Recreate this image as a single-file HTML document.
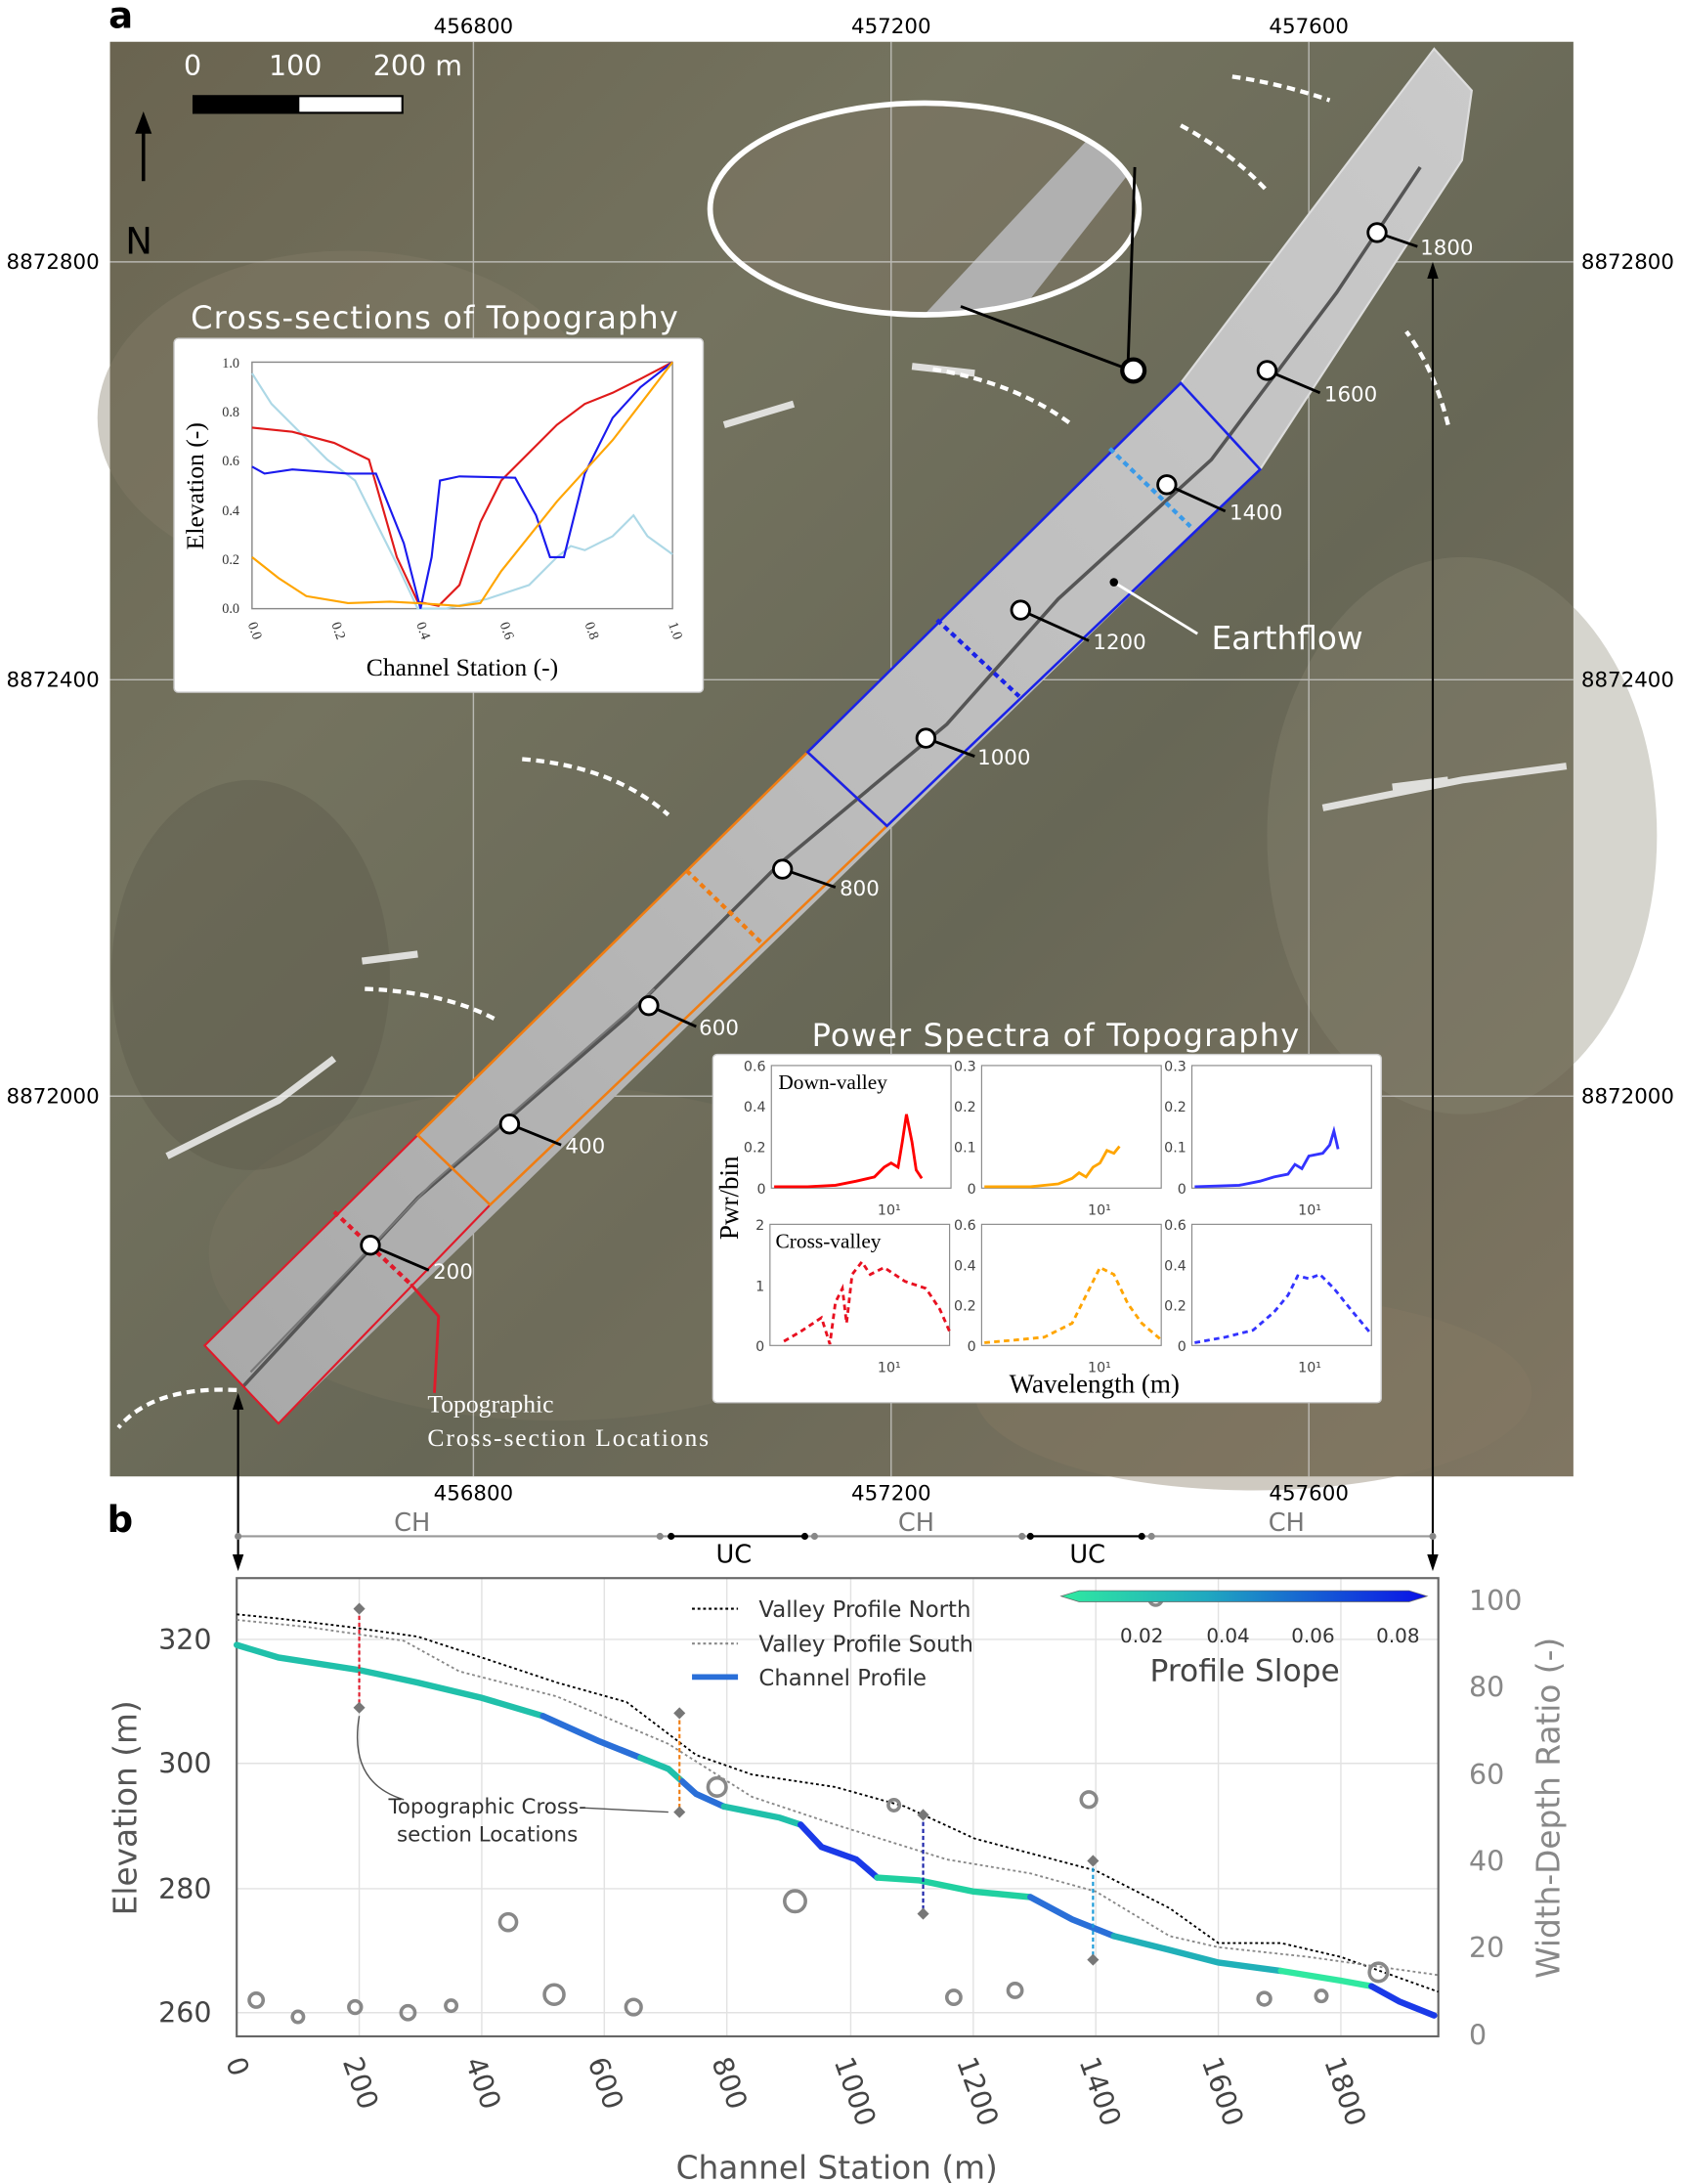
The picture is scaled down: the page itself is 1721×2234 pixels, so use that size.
<!DOCTYPE html>
<html><head><meta charset="utf-8"><style>html,body{margin:0;padding:0;background:#fff}svg{display:block}</style></head><body>
<svg width="1721" height="2234" viewBox="0 0 1208 1568" preserveAspectRatio="none" xmlns="http://www.w3.org/2000/svg" font-family="DejaVu Sans, Liberation Sans, sans-serif">
<defs>
<linearGradient id="sat" x1="0" y1="0" x2="1" y2="1">
<stop offset="0" stop-color="#6a6450"/><stop offset="0.3" stop-color="#74735f"/><stop offset="0.6" stop-color="#676756"/><stop offset="1" stop-color="#807662"/></linearGradient>
<linearGradient id="dem" x1="0" y1="1" x2="1" y2="0"><stop offset="0" stop-color="#a8a8a8"/><stop offset="0.5" stop-color="#bcbcbc"/><stop offset="1" stop-color="#cacaca"/></linearGradient>
<clipPath id="el"><ellipse cx="664" cy="150" rx="154" ry="76"/></clipPath>
</defs>
<rect width="1208" height="1568" fill="#fff"/>
<rect x="79" y="30" width="1051" height="1030" fill="url(#sat)"/>
<ellipse cx="250" cy="300" rx="180" ry="120" fill="#857e6a" opacity="0.4"/>
<ellipse cx="1050" cy="600" rx="140" ry="200" fill="#8a8674" opacity="0.35"/>
<ellipse cx="400" cy="900" rx="250" ry="120" fill="#7a7662" opacity="0.4"/>
<ellipse cx="900" cy="1000" rx="200" ry="70" fill="#877a64" opacity="0.4"/>
<ellipse cx="180" cy="700" rx="100" ry="140" fill="#5c5b4c" opacity="0.4"/>
<ellipse cx="664" cy="150" rx="154" ry="76" fill="#7e7664" opacity="0.5"/>
<polygon clip-path="url(#el)" points="660,230 800,80 830,100 720,240" fill="#b0b0b0"/>
<g stroke="#d8d8d8" stroke-width="1" opacity="0.7">
<line x1="340" y1="30" x2="340" y2="1060"/><line x1="640" y1="30" x2="640" y2="1060"/><line x1="940" y1="30" x2="940" y2="1060"/>
<line x1="79" y1="188" x2="1130" y2="188"/><line x1="79" y1="488" x2="1130" y2="488"/><line x1="79" y1="787" x2="1130" y2="787"/>
</g>
<g stroke="#f2f2f2" stroke-width="5" fill="none" opacity="0.85">
<path d="M520 305 L570 290"/><path d="M655 263 L700 268"/><path d="M950 580 L1050 560 L1125 550"/><path d="M120 830 L200 790 L240 760"/><path d="M260 690 L300 685"/><path d="M1000 565 L1040 560"/>
</g>
<polygon points="147,966 848,275 1030,35 1057,65 1050,115 905,337 200,1022" fill="url(#dem)"/>
<path d="M175 995 L300 860 L450 730 L560 620 L680 520 L760 430 L870 330 L960 210 L1020 120" stroke="#555" stroke-width="2.5" fill="none"/>
<path d="M180 985 L310 850 L470 710" stroke="#777" stroke-width="1.5" fill="none"/>
<polygon points="848,275 1030,35 1057,65 1050,115 905,337" fill="none" stroke="#ddd" stroke-width="1.5"/>
<polygon points="147,966 300,815 352,865 200,1022" fill="none" stroke="#e01a2a" stroke-width="1.5"/>
<polygon points="300,815 580,540 637,593 352,865" fill="none" stroke="#f07d12" stroke-width="1.8"/>
<polygon points="580,540 848,275 905,337 637,593" fill="none" stroke="#1a22e8" stroke-width="1.8"/>
<line x1="240" y1="870" x2="295" y2="922" stroke="#e01a2a" stroke-width="3" stroke-dasharray="4,3"/>
<line x1="493" y1="625" x2="547" y2="677" stroke="#f07d12" stroke-width="3" stroke-dasharray="4,3"/>
<line x1="673" y1="445" x2="732" y2="500" stroke="#1a22e8" stroke-width="3" stroke-dasharray="4,3"/>
<line x1="797" y1="322" x2="855" y2="378" stroke="#3a9ae8" stroke-width="3" stroke-dasharray="4,3"/>
<path d="M295 922 L315 945 L312 1000" stroke="#e01a2a" stroke-width="2" fill="none"/>
<ellipse cx="664" cy="150" rx="154" ry="76" fill="none" stroke="#fff" stroke-width="4"/>
<path d="M690 220 L810 265 L815 120" stroke="#000" stroke-width="2" fill="none"/>
<circle cx="814" cy="266" r="8" fill="#fff" stroke="#000" stroke-width="3"/>
<g stroke="#fff" stroke-width="3" stroke-dasharray="6,4" fill="none">
<path d="M885 55 Q920 60 955 72"/><path d="M848 90 Q885 110 910 137"/><path d="M670 265 Q730 275 770 305"/><path d="M1040 305 Q1030 265 1010 238"/><path d="M375 545 Q440 550 480 585"/><path d="M262 710 Q320 712 358 733"/>
<path d="M170 998 Q110 995 85 1025"/>
</g>
<g font-size="15" fill="#fff">
<g stroke="#000" stroke-width="2"><line x1="266" y1="894" x2="308" y2="912"/><line x1="366" y1="807" x2="403" y2="822"/><line x1="466" y1="722" x2="500" y2="737"/><line x1="562" y1="624" x2="600" y2="637"/><line x1="665" y1="530" x2="700" y2="543"/><line x1="733" y1="438" x2="782" y2="460"/><line x1="838" y1="348" x2="880" y2="367"/><line x1="910" y1="266" x2="948" y2="282"/><line x1="989" y1="167" x2="1018" y2="177"/></g>
<g fill="#fff" stroke="#000" stroke-width="2"><circle cx="266" cy="894" r="6.5"/><circle cx="366" cy="807" r="6.5"/><circle cx="466" cy="722" r="6.5"/><circle cx="562" cy="624" r="6.5"/><circle cx="665" cy="530" r="6.5"/><circle cx="733" cy="438" r="6.5"/><circle cx="838" cy="348" r="6.5"/><circle cx="910" cy="266" r="6.5"/><circle cx="989" cy="167" r="6.5"/></g>
<text x="311" y="918">200</text><text x="406" y="828">400</text><text x="502" y="743">600</text><text x="603" y="643">800</text><text x="702" y="549">1000</text><text x="785" y="466">1200</text><text x="883" y="373">1400</text><text x="951" y="288">1600</text><text x="1020" y="183">1800</text>
</g>
<path d="M800 418 L860 455" stroke="#fff" stroke-width="2"/><circle cx="800" cy="418" r="3" fill="#000"/>
<text x="870" y="466" font-size="23" fill="#fff">Earthflow</text>
<text x="307" y="1014" font-size="18" fill="#fff" font-family="Liberation Serif, serif">Topographic</text>
<text x="307" y="1038" font-size="18" fill="#fff" font-family="Liberation Serif, serif" textLength="202">Cross-section  Locations</text>
<text x="132" y="54" font-size="20" fill="#fff">0</text><text x="193" y="54" font-size="20" fill="#fff">100</text><text x="268" y="54" font-size="20" fill="#fff">200 m</text>
<rect x="139" y="69" width="150" height="12" fill="#fff" stroke="#000" stroke-width="1.5"/><rect x="139" y="69" width="76" height="12" fill="#000"/>
<line x1="103" y1="130" x2="103" y2="88" stroke="#000" stroke-width="2.5"/><polygon points="103,80 97,96 109,96" fill="#000"/>
<text x="90" y="182" font-size="26" fill="#000">N</text>
<g font-size="15" fill="#000" text-anchor="middle"><text x="340" y="24">456800</text><text x="640" y="24">457200</text><text x="940" y="24">457600</text>
<text x="340" y="1077">456800</text><text x="640" y="1077">457200</text><text x="940" y="1077">457600</text>
<text x="38" y="193">8872800</text><text x="38" y="493">8872400</text><text x="38" y="792">8872000</text>
<text x="1169" y="193">8872800</text><text x="1169" y="493">8872400</text><text x="1169" y="792">8872000</text></g>
<text x="78" y="20" font-size="26" font-weight="bold">a</text>
<text x="77" y="1100" font-size="26" font-weight="bold">b</text>
<text x="312" y="236" font-size="22.5" fill="#fff" text-anchor="middle" textLength="350">Cross-sections of Topography</text>
<rect x="125" y="243" width="380" height="254" rx="3" fill="#fff" stroke="#ccc"/>
<rect x="181" y="260" width="302" height="177" fill="none" stroke="#888"/>
<g font-size="10" fill="#333" text-anchor="end" font-family="Liberation Serif, serif"><text x="172" y="264">1.0</text><text x="172" y="299">0.8</text><text x="172" y="334">0.6</text><text x="172" y="370">0.4</text><text x="172" y="405">0.2</text><text x="172" y="440">0.0</text></g>
<g font-size="10" fill="#333" font-family="Liberation Serif, serif"><text transform="translate(178,448) rotate(70)">0.0</text><text transform="translate(238,448) rotate(70)">0.2</text><text transform="translate(299,448) rotate(70)">0.4</text><text transform="translate(359,448) rotate(70)">0.6</text><text transform="translate(420,448) rotate(70)">0.8</text><text transform="translate(480,448) rotate(70)">1.0</text></g>
<text x="332" y="485" font-size="18" text-anchor="middle" font-family="Liberation Serif, serif">Channel Station (-)</text>
<text transform="translate(146,349) rotate(-90)" font-size="18" text-anchor="middle" font-family="Liberation Serif, serif">Elevation (-)</text>
<g fill="none" stroke-width="1.5">
<polyline stroke="#add8e6" points="181,268 195,290 215,310 235,330 255,345 270,375 285,405 300,437 320,437 350,430 380,420 400,400 410,392 420,395 440,385 455,370 465,385 483,398"/>
<polyline stroke="#e01a1a" points="181,307 210,310 240,318 265,330 285,400 300,432 315,435 330,420 345,375 360,345 380,325 400,305 420,290 440,282 460,272 483,260"/>
<polyline stroke="#1a1aee" points="181,335 190,340 210,337 250,340 270,340 290,390 302,437 310,400 316,345 330,342 370,343 385,370 395,400 405,400 420,340 440,300 460,278 483,260"/>
<polyline stroke="#ffa500" points="181,400 200,415 220,428 250,433 280,432 300,433 330,435 345,433 360,410 380,385 400,360 420,338 440,316 460,290 483,260"/>
</g>
<text x="758" y="751" font-size="22.5" fill="#fff" text-anchor="middle" textLength="350">Power Spectra of Topography</text>
<rect x="512" y="757" width="480" height="250" rx="3" fill="#fff" stroke="#ccc"/>
<g fill="none" stroke="#888" stroke-width="0.8">
<rect x="554" y="765" width="129" height="88"/><rect x="705" y="765" width="129" height="88"/><rect x="856" y="765" width="129" height="88"/>
<rect x="553" y="879" width="129" height="87"/><rect x="705" y="879" width="129" height="87"/><rect x="856" y="879" width="129" height="87"/></g>
<g font-size="10" fill="#444" text-anchor="end">
<text x="550" y="769">0.6</text><text x="550" y="798">0.4</text><text x="550" y="827">0.2</text><text x="550" y="857">0</text>
<text x="701" y="769">0.3</text><text x="701" y="798">0.2</text><text x="701" y="827">0.1</text><text x="701" y="857">0</text>
<text x="852" y="769">0.3</text><text x="852" y="798">0.2</text><text x="852" y="827">0.1</text><text x="852" y="857">0</text>
<text x="549" y="883">2</text><text x="549" y="927">1</text><text x="549" y="970">0</text>
<text x="701" y="883">0.6</text><text x="701" y="912">0.4</text><text x="701" y="941">0.2</text><text x="701" y="970">0</text>
<text x="852" y="883">0.6</text><text x="852" y="912">0.4</text><text x="852" y="941">0.2</text><text x="852" y="970">0</text>
<text x="647" y="872">10¹</text><text x="798" y="872">10¹</text><text x="949" y="872">10¹</text>
<text x="647" y="985">10¹</text><text x="798" y="985">10¹</text><text x="949" y="985">10¹</text></g>
<text x="559" y="782" font-size="15" font-family="Liberation Serif, serif">Down-valley</text>
<text x="557" y="896" font-size="15" font-family="Liberation Serif, serif">Cross-valley</text>
<text transform="translate(530,860) rotate(-90)" font-size="19" text-anchor="middle" font-family="Liberation Serif, serif">Pwr/bin</text>
<text x="786" y="1000" font-size="19" text-anchor="middle" font-family="Liberation Serif, serif">Wavelength (m)</text>
<g fill="none" stroke-width="2">
<polyline stroke="#f00" points="556,852 580,852 600,851 615,848 628,845 635,838 640,835 645,838 648,820 651,800 655,820 658,840 662,846"/>
<polyline stroke="#ffa500" points="707,852 740,852 760,850 770,846 775,842 780,845 785,838 790,835 795,826 800,828 804,823"/>
<polyline stroke="#33f" points="858,852 890,851 905,848 915,845 925,843 930,836 935,839 940,830 950,828 955,822 958,812 961,825"/>
</g>
<g fill="none" stroke-width="2" stroke-dasharray="4,3">
<polyline stroke="#e81020" points="563,963 575,956 590,946 596,965 600,935 605,925 608,950 612,915 619,906 625,915 635,910 650,920 665,925 675,940 682,956"/>
<polyline stroke="#ffa500" points="707,964 730,962 750,960 770,950 780,930 790,910 800,915 810,936 820,950 834,962"/>
<polyline stroke="#33f" points="858,964 880,960 900,955 915,942 925,930 932,916 940,918 948,915 958,925 970,940 985,958"/>
</g>
<g stroke="#000" stroke-width="1.5"><line x1="171" y1="1002" x2="171" y2="1125"/><line x1="1029" y1="190" x2="1029" y2="1125"/></g>
<polygon points="171,1000 167,1012 175,1012" fill="#000"/><polygon points="171,1128 167,1116 175,1116" fill="#000"/>
<polygon points="1029,188 1025,200 1033,200" fill="#000"/><polygon points="1029,1128 1025,1116 1033,1116" fill="#000"/>
<line x1="171" y1="1103" x2="1029" y2="1103" stroke="#999" stroke-width="1.5"/>
<line x1="482" y1="1103" x2="578" y2="1103" stroke="#000" stroke-width="1.5"/><line x1="740" y1="1103" x2="820" y2="1103" stroke="#000" stroke-width="1.5"/>
<g fill="#888"><circle cx="171" cy="1103" r="2.5"/><circle cx="474" cy="1103" r="2.5"/><circle cx="585" cy="1103" r="2.5"/><circle cx="734" cy="1103" r="2.5"/><circle cx="827" cy="1103" r="2.5"/><circle cx="1029" cy="1103" r="2.5"/></g>
<g fill="#000"><circle cx="482" cy="1103" r="2.5"/><circle cx="578" cy="1103" r="2.5"/><circle cx="740" cy="1103" r="2.5"/><circle cx="820" cy="1103" r="2.5"/></g>
<g font-size="18" text-anchor="middle"><text x="296" y="1099" fill="#777">CH</text><text x="658" y="1099" fill="#777">CH</text><text x="924" y="1099" fill="#777">CH</text><text x="527" y="1122" fill="#000">UC</text><text x="781" y="1122" fill="#000">UC</text></g>
<g stroke="#e2e2e2" stroke-width="1">
<line x1="170" y1="1177" x2="1033" y2="1177"/><line x1="170" y1="1266" x2="1033" y2="1266"/><line x1="170" y1="1356" x2="1033" y2="1356"/><line x1="170" y1="1445" x2="1033" y2="1445"/>
<line x1="258" y1="1133" x2="258" y2="1462"/><line x1="346" y1="1133" x2="346" y2="1462"/><line x1="434" y1="1133" x2="434" y2="1462"/><line x1="522" y1="1133" x2="522" y2="1462"/><line x1="611" y1="1133" x2="611" y2="1462"/><line x1="699" y1="1133" x2="699" y2="1462"/><line x1="787" y1="1133" x2="787" y2="1462"/><line x1="875" y1="1133" x2="875" y2="1462"/><line x1="963" y1="1133" x2="963" y2="1462"/>
</g>
<rect x="170" y="1133" width="863" height="329" fill="none" stroke="#666" stroke-width="1.5"/>
<g font-size="20" fill="#444" text-anchor="end"><text x="152" y="1184">320</text><text x="152" y="1273">300</text><text x="152" y="1363">280</text><text x="152" y="1452">260</text></g>
<g font-size="20" fill="#888"><text x="1055" y="1156">100</text><text x="1055" y="1218">80</text><text x="1055" y="1281">60</text><text x="1055" y="1343">40</text><text x="1055" y="1405">20</text><text x="1055" y="1468">0</text></g>
<g font-size="20" fill="#444">
<text transform="translate(162,1480) rotate(70)">0</text><text transform="translate(246,1480) rotate(70)">200</text><text transform="translate(334,1480) rotate(70)">400</text><text transform="translate(422,1480) rotate(70)">600</text><text transform="translate(511,1480) rotate(70)">800</text><text transform="translate(599,1480) rotate(70)">1000</text><text transform="translate(687,1480) rotate(70)">1200</text><text transform="translate(775,1480) rotate(70)">1400</text><text transform="translate(863,1480) rotate(70)">1600</text><text transform="translate(951,1480) rotate(70)">1800</text></g>
<text x="601" y="1564" font-size="23" fill="#555" text-anchor="middle">Channel Station (m)</text>
<text transform="translate(98,1298) rotate(-90)" font-size="23" fill="#555" text-anchor="middle">Elevation (m)</text>
<text transform="translate(1120,1298) rotate(-90)" font-size="23" fill="#888" text-anchor="middle">Width-Depth Ratio (-)</text>
<polyline fill="none" stroke="#000" stroke-width="1.3" stroke-dasharray="2,2" points="170,1159 200,1162 250,1168 300,1175 346,1190 400,1208 450,1222 500,1260 540,1274 600,1283 650,1297 700,1320 787,1343 840,1370 875,1395 920,1395 963,1405 1033,1430"/>
<polyline fill="none" stroke="#888" stroke-width="1.3" stroke-dasharray="2,2" points="170,1163 220,1168 290,1178 330,1200 400,1218 480,1252 540,1290 600,1310 680,1335 740,1345 787,1358 840,1390 875,1398 940,1405 1033,1418"/>
<g fill="none" stroke-width="4.5" stroke-linecap="round">
<polyline stroke="#20c0aa" points="170,1181 200,1190 258,1199 300,1208 346,1219 390,1232"/>
<polyline stroke="#2a6fd8" points="390,1232 430,1250 460,1262"/>
<polyline stroke="#20c0aa" points="460,1262 480,1270 490,1279"/>
<polyline stroke="#2a6fd8" points="490,1279 500,1288 520,1297"/>
<polyline stroke="#20c0aa" points="520,1297 560,1305 575,1310"/>
<polyline stroke="#1a3ae8" points="575,1310 590,1326 615,1335 630,1348"/>
<polyline stroke="#20d0a0" points="630,1348 660,1350 699,1358 740,1362"/>
<polyline stroke="#2a6fd8" points="740,1362 770,1378 800,1390"/>
<polyline stroke="#20b0b8" points="800,1390 840,1400 875,1409 920,1415"/>
<polyline stroke="#30e8a0" points="920,1415 963,1422 985,1426"/>
<polyline stroke="#1a3ae8" points="985,1426 1005,1437 1030,1447"/>
</g>
<g stroke-width="1.5" stroke-dasharray="3,2"><line x1="258" y1="1155" x2="258" y2="1226" stroke="#e01a2a"/><line x1="488" y1="1230" x2="488" y2="1301" stroke="#f07d12"/><line x1="663" y1="1303" x2="663" y2="1374" stroke="#1a22a8"/><line x1="785" y1="1336" x2="785" y2="1407" stroke="#1a9ad8"/></g>
<g fill="#777"><rect x="255" y="1152" width="6" height="6" transform="rotate(45 258 1155)"/><rect x="255" y="1223" width="6" height="6" transform="rotate(45 258 1226)"/><rect x="485" y="1227" width="6" height="6" transform="rotate(45 488 1230)"/><rect x="485" y="1298" width="6" height="6" transform="rotate(45 488 1301)"/><rect x="660" y="1300" width="6" height="6" transform="rotate(45 663 1303)"/><rect x="660" y="1371" width="6" height="6" transform="rotate(45 663 1374)"/><rect x="782" y="1333" width="6" height="6" transform="rotate(45 785 1336)"/><rect x="782" y="1404" width="6" height="6" transform="rotate(45 785 1407)"/></g>
<path d="M258 1232 Q250 1280 290 1292" stroke="#555" fill="none"/><path d="M420 1298 L480 1301" stroke="#555" fill="none"/>
<text x="350" y="1302" font-size="15" fill="#333" text-anchor="middle">Topographic Cross-</text>
<text x="350" y="1322" font-size="15" fill="#333" text-anchor="middle">section Locations</text>
<g fill="none" stroke="#888" stroke-width="2.5">
<circle cx="184" cy="1436" r="5"/><circle cx="214" cy="1448" r="4"/><circle cx="255" cy="1441" r="4.5"/><circle cx="293" cy="1445" r="5"/><circle cx="324" cy="1440" r="4"/><circle cx="365" cy="1380" r="6"/><circle cx="398" cy="1432" r="7"/><circle cx="455" cy="1441" r="5.5"/><circle cx="515" cy="1283" r="6.5"/><circle cx="571" cy="1365" r="7.5"/><circle cx="642" cy="1296" r="4"/><circle cx="685" cy="1434" r="5"/><circle cx="729" cy="1429" r="5"/><circle cx="782" cy="1292" r="5.5"/><circle cx="830" cy="1148" r="4.5"/><circle cx="908" cy="1435" r="4.5"/><circle cx="949" cy="1433" r="4"/><circle cx="990" cy="1416" r="6.5"/></g>
<line x1="497" y1="1155" x2="530" y2="1155" stroke="#000" stroke-width="1.5" stroke-dasharray="2,2"/><text x="545" y="1161" font-size="16" fill="#333">Valley Profile North</text>
<line x1="497" y1="1180" x2="530" y2="1180" stroke="#888" stroke-width="1.5" stroke-dasharray="2,2"/><text x="545" y="1186" font-size="16" fill="#333">Valley Profile South</text>
<line x1="497" y1="1204" x2="530" y2="1204" stroke="#2a6fd8" stroke-width="4"/><text x="545" y="1210" font-size="16" fill="#333">Channel Profile</text>
<defs><linearGradient id="cb" x1="0" x2="1"><stop offset="0" stop-color="#30eaa0"/><stop offset="0.4" stop-color="#20a8c0"/><stop offset="1" stop-color="#0a10e8"/></linearGradient></defs>
<polygon points="762,1146 775,1142 1012,1142 1025,1146 1012,1150 775,1150" fill="url(#cb)" stroke="#666" stroke-width="0.5"/>
<g font-size="14" fill="#333" text-anchor="middle"><text x="820" y="1179">0.02</text><text x="882" y="1179">0.04</text><text x="943" y="1179">0.06</text><text x="1004" y="1179">0.08</text></g>
<text x="894" y="1207" font-size="22" fill="#444" text-anchor="middle">Profile Slope</text>
</svg>
</body></html>
